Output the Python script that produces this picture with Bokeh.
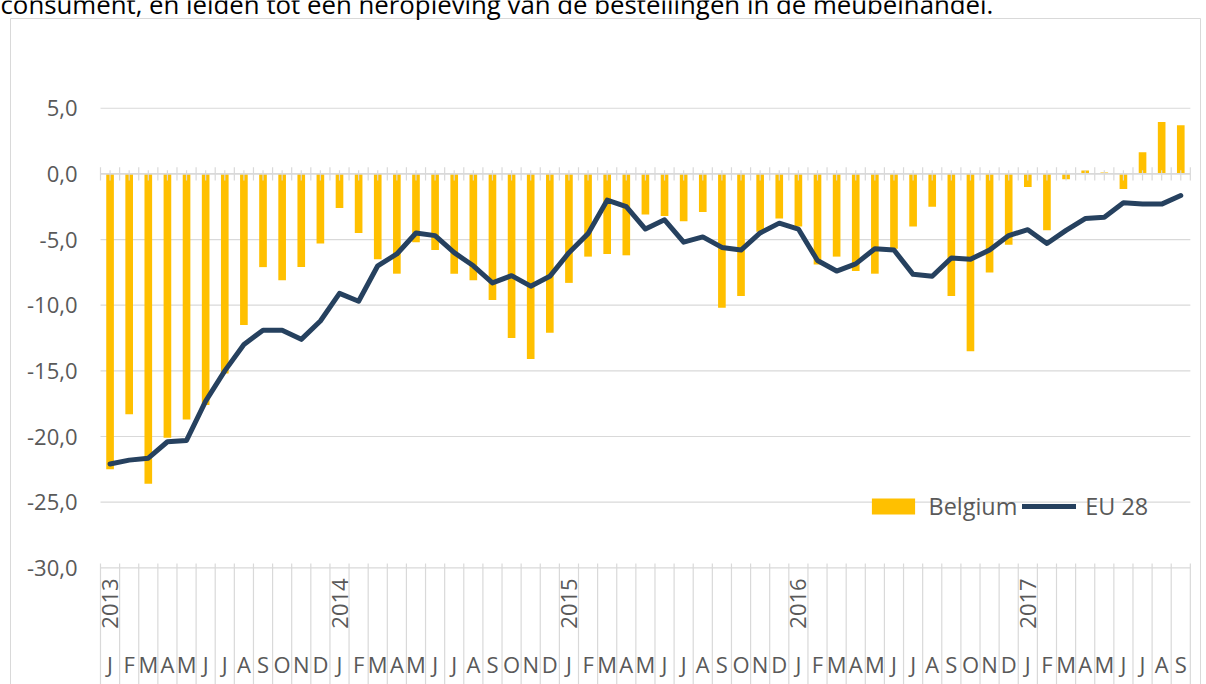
import numpy as np
from bokeh.plotting import figure
from bokeh.models import Range1d, Legend, LegendItem
from bokeh.core.properties import value
from bokeh.embed import file_html
from bokeh.resources import INLINE

# ---------------- data ----------------
years = ["2013", "2014", "2015", "2016", "2017"]
month_letters = ["J", "F", "M", "A", "M", "J", "J", "A", "S", "O", "N", "D"]
months = (month_letters * 5)[:57]

belgium = [
    -22.5, -18.3, -23.6, -20.1, -18.7, -17.6, -15.2, -11.5, -7.1, -8.1, -7.1, -5.3,
    -2.6, -4.5, -6.5, -7.6, -5.2, -5.8, -7.6, -8.1, -9.6, -12.5, -14.1, -12.1,
    -8.3, -6.3, -6.1, -6.2, -3.1, -3.2, -3.6, -2.9, -10.2, -9.3, -4.4, -3.4,
    -4.0, -6.9, -6.3, -7.4, -7.6, -5.7, -4.0, -2.5, -9.3, -13.5, -7.5, -5.4,
    -1.0, -4.3, -0.4, 0.25, 0.1, -1.15, 1.65, 3.95, 3.7,
]
eu28 = [
    -22.1, -21.8, -21.65, -20.4, -20.3, -17.3, -15.0, -13.0, -11.9, -11.9, -12.6, -11.2,
    -9.1, -9.7, -7.0, -6.1, -4.5, -4.7, -6.0, -7.0, -8.3, -7.75, -8.55, -7.8,
    -6.0, -4.55, -2.0, -2.5, -4.2, -3.5, -5.2, -4.8, -5.6, -5.8, -4.5, -3.75,
    -4.2, -6.6, -7.4, -6.85, -5.7, -5.8, -7.65, -7.8, -6.4, -6.5, -5.8, -4.7,
    -4.25, -5.3, -4.3, -3.4, -3.3, -2.2, -2.3, -2.3, -1.65,
]
y_ticks = [5, 0, -5, -10, -15, -20, -25, -30]
y_tick_labels = ["5,0", "0,0", "-5,0", "-10,0", "-15,0", "-20,0", "-25,0", "-30,0"]
note = "consument, en leiden tot een heropleving van de bestellingen in de meubelhandel."
series_names = ["Belgium", "EU 28"]

# ---------------- layout helpers (pixel -> data) ----------------
W, H = 1206, 684
CAT_PX = 19.12      # width of one month category in px
X0_PX = 100.0       # x of first category boundary
Y0_PX = 173.4       # y of value 0
V_PX = 13.13        # px per unit of value


def kx(px):
    return (px - X0_PX) / CAT_PX


def vy(py):
    return (Y0_PX - py) / V_PX


GRID = "#D9D9D9"
LABEL = "#595959"
FONT_NAME = "Open Sans"
FONT = value(FONT_NAME)

n = len(belgium)
xc = [i + 0.5 for i in range(n)]

p = figure(width=W, height=H,
           x_range=Range1d(kx(0), kx(W)), y_range=Range1d(vy(H), vy(0)),
           x_axis_type=None, y_axis_type=None,
           output_backend="svg", toolbar_location=None, min_border=0)
p.outline_line_color = None
p.background_fill_color = "white"
p.border_fill_color = "white"

# outer chart border (top, left, right)
bx0, bx1 = kx(10), kx(1200)
by_top, by_bot = vy(18), vy(H + 20)
p.line([bx0, bx0, bx1, bx1], [by_bot, by_top, by_top, by_bot], line_color=GRID, line_width=1)

# sentence at the top of the page (cut off in the source, as here)
p.text(x=[kx(0)], y=[vy(3)], text=[note], text_font=FONT, text_font_size="25.8px",
       text_color="#000000", text_align="left", text_baseline="alphabetic")

# horizontal gridlines
gy = [t for t in y_ticks if t != 0]
p.segment(x0=[0] * len(gy), x1=[n] * len(gy), y0=gy, y1=gy, line_color=GRID, line_width=1.2)

# y tick labels
p.text(x=[kx(77)] * len(y_ticks), y=y_ticks, text=y_tick_labels, text_font=FONT,
       text_font_size="22px", text_color=LABEL, text_align="right", text_baseline="middle")

# bars
bars = p.vbar(x=xc, top=belgium, bottom=0, width=0.4, fill_color="#FFC000", line_color=None)

# zero axis line + tick marks
p.segment(x0=[0], x1=[n], y0=[0], y1=[0], line_color=GRID, line_width=1.6)
kb = list(range(n + 1))
p.segment(x0=kb, x1=kb, y0=[0.5] * len(kb), y1=[-0.5] * len(kb), line_color=GRID, line_width=1.2)
p.segment(x0=xc, x1=xc, y0=[0.28] * n, y1=[-0.5] * n, line_color=GRID, line_width=1.2)

# EU 28 line
line = p.line(xc, eu28, line_color="#26415F", line_width=5, line_join="round", line_cap="round")

# bottom category axis: separators below -30
sep_top = vy(563)
p.segment(x0=kb, x1=kb, y0=[sep_top] * len(kb), y1=[vy(H + 20)] * len(kb), line_color=GRID, line_width=1.2)

# month labels
p.text(x=xc, y=[vy(663)] * n, text=months, text_font=FONT, text_font_size="22px",
       text_color=LABEL, text_align="center", text_baseline="middle")

# year labels (vertical), at first month of each year
yx = [12 * i + 0.5 for i in range(len(years))]
p.text(x=yx, y=[vy(603)] * len(years), text=years, angle=np.pi / 2, text_font=FONT,
       text_font_size="22px", text_color=LABEL, text_align="center", text_baseline="middle")

legend = Legend(items=[LegendItem(label=series_names[0], renderers=[bars]),
                       LegendItem(label=series_names[1], renderers=[line])],
                orientation="horizontal", location=(865.6, 162),
                glyph_width=54, glyph_height=20, label_height=20,
                label_standoff=9, spacing=5, padding=0, margin=0,
                label_text_font=FONT_NAME, label_text_font_size="23.4px", label_text_color=LABEL,
                border_line_color=None, background_fill_alpha=0)
p.add_layout(legend)

open("out.html", "w").write(file_html(p, INLINE))
